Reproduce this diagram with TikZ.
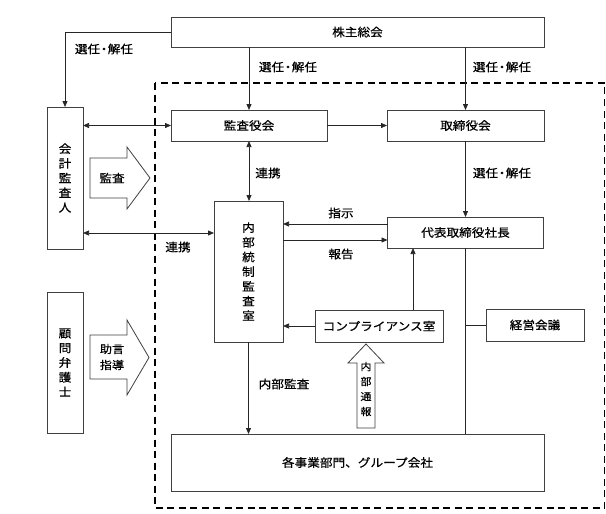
\documentclass[tikz,border=0pt]{standalone}
\usepackage{fontspec}
\setmainfont{Noto Sans CJK JP}[FakeStretch=1.1,FakeBold=0.5]
\usetikzlibrary{arrows.meta,calc}
\newcommand{\sdot}{\kern-2.5pt・\kern-2.5pt}
\begin{document}
\begin{tikzpicture}[x=1pt,y=-1pt,
  every node/.style={font=\fontsize{11.5pt}{14.7pt}\selectfont, inner sep=0pt, outer sep=0pt},
  box/.style={draw=black!75, line width=0.9pt, rectangle, align=center},
  conn/.style={draw=black!85, line width=0.75pt},
  arr/.style={conn, -{Triangle[length=6pt,width=5pt]}},
  darr/.style={conn, {Triangle[length=6pt,width=5pt]}-{Triangle[length=6pt,width=5pt]}},
  blockarrow/.style={draw=black!75, line width=0.8pt, fill=white},
  lbl/.style={align=center}]
\useasboundingbox (0,0) rectangle (606,514);
\fill[white] (0,0) rectangle (606,514);

% dashed company frame
\draw[line width=1.6pt, dash pattern=on 7pt off 4.5pt] (155,83) rectangle (604.5,508);

% boxes
\node[box, minimum width=373pt, minimum height=30pt] (kabu) at (357.5,32) {株主総会};
\node[box, minimum width=156pt, minimum height=31pt] (kansayaku) at (249,125.5) {監査役会};
\node[box, minimum width=157pt, minimum height=31pt] (torishimari) at (465.5,125.5) {取締役会};
\node[box, minimum width=36pt, minimum height=142pt] (kaikei) at (65,178) {会\\計\\監\\査\\人};
\node[box, minimum width=36pt, minimum height=141pt] (komon) at (65,362.5) {顧\\問\\弁\\護\\士};
\node[box, minimum width=69pt, minimum height=141pt] (naibu) at (248.5,271.5) {内\\部\\統\\制\\監\\査\\室};
\node[box, minimum width=156pt, minimum height=31pt] (daihyo) at (465.5,232.5) {代表取締役社長};
\node[box, minimum width=128pt, minimum height=32pt] (comp) at (379,326) {コンプライアンス室};
\node[box, minimum width=98pt, minimum height=32pt] (keiei) at (535,325) {経営会議};
\node[box, minimum width=373pt, minimum height=57pt] (kakuji) at (357.5,462.5) {各事業部門、グループ会社};

% helper coordinates
\coordinate (r1) at (0,233);
\coordinate (c1) at (413,0);

% connectors
\draw[arr] (kabu.west) -| (kaikei.north);
\draw[arr] (kabu.south -| kansayaku.north) -- (kansayaku.north);
\draw[arr] (kabu.south -| torishimari.north) -- (torishimari.north);
\draw[darr] (kansayaku.west -| kaikei.east) -- (kansayaku.west);
\draw[arr] (kansayaku.east) -- (torishimari.west);
\draw[darr] (kansayaku.south) -- (kansayaku.south |- naibu.north);
\draw[arr] (torishimari.south) -- (daihyo.north);
\draw[arr] ([yshift=8.5pt]daihyo.west) -- ([yshift=8.5pt]daihyo.west -| naibu.east);
\draw[arr] ([yshift=-7.5pt]daihyo.west -| naibu.east) -- ([yshift=-7.5pt]daihyo.west);
\draw[darr] (kaikei.east |- r1) -- (naibu.west |- r1);
\draw[arr] (comp.west) -- (comp.west -| naibu.east);
\draw[arr] (comp.north -| c1) -- (daihyo.south -| c1);
\draw[conn] (keiei.west) -- (keiei.west -| daihyo.south);
\draw[conn] (daihyo.south) -- (daihyo.south |- kakuji.north);
\draw[arr] (naibu.south) -- (naibu.south |- kakuji.north);

% labels
\node[lbl] (l1) at (104,49) {選任\sdot 解任};
\node[lbl] (l2) at (288,67) {選任\sdot 解任};
\node[lbl] (l3) at (502,67) {選任\sdot 解任};
\node[lbl] (l4) at (268,173) {連携};
\node[lbl] (l5) at (502,173) {選任\sdot 解任};
\node[lbl] (l6) at (341,213) {指示};
\node[lbl] (l7) at (341,254) {報告};
\node[lbl] (l8) at (178,247) {連携};
\node[lbl] (l9) at (284,384) {内部監査};

% block arrows
\draw[blockarrow] (90,158) -- (127,158) -- (127,147) -- (150,178) -- (127,209) -- (127,198) -- (90,198) -- cycle;
\node[lbl] (b1) at (112,178) {監査};
\draw[blockarrow] (90,335) -- (127,335) -- (127,320) -- (149,357.5) -- (127,395) -- (127,379) -- (90,379) -- cycle;
\node[lbl, font=\fontsize{11pt}{16pt}\selectfont] (b2) at (112,357) {助言\\指導};
\draw[blockarrow] (357,428) -- (357,363) -- (348,363) -- (366,344) -- (384,363) -- (375,363) -- (375,428) -- cycle;
\node[lbl, font=\fontsize{10pt}{15pt}\selectfont] (b3) at (366,389) {内\\部\\通\\報};
\end{tikzpicture}
\end{document}
